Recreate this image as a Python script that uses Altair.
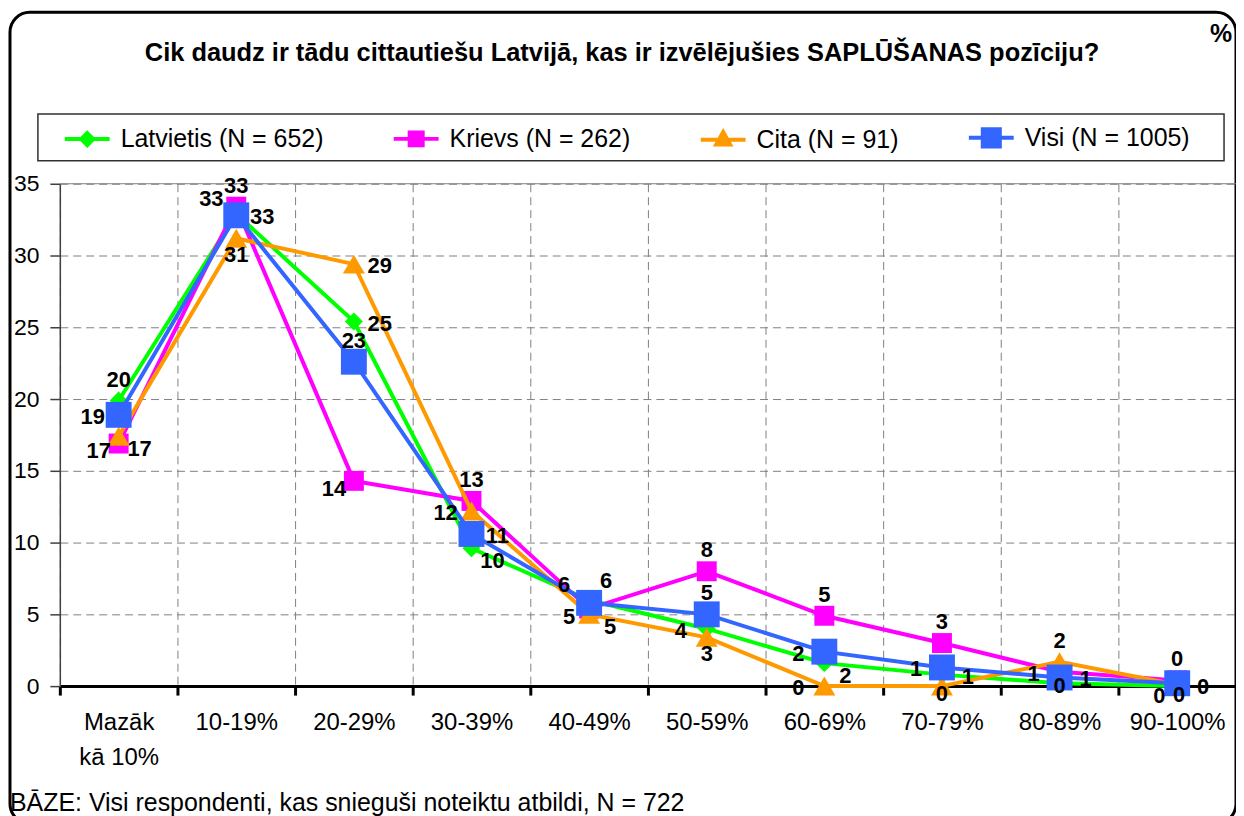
import altair as alt
import pandas as pd

# ---------------- data ----------------
categories = ["Mazāk kā 10%", "10-19%", "20-29%", "30-39%", "40-49%",
              "50-59%", "60-69%", "70-79%", "80-89%", "90-100%"]
series = ["Latvietis (N = 652)", "Krievs (N = 262)", "Cita (N = 91)", "Visi (N = 1005)"]
latvietis = [19.9, 32.9, 25.4, 9.6, 6.0, 4.0, 1.6, 0.8, 0.2, 0.0]
krievs = [16.9, 33.4, 14.3, 12.9, 5.4, 8.0, 4.9, 3.0, 1.0, 0.4]
cita = [17.4, 31.2, 29.4, 12.2, 5.0, 3.4, 0.0, 0.0, 1.7, 0.1]
visi = [18.9, 32.8, 22.6, 10.6, 5.8, 5.0, 2.4, 1.3, 0.6, 0.2]
y_ticks = [0, 5, 10, 15, 20, 25, 30, 35]

title_text = "Cik daudz ir tādu cittautiešu Latvijā, kas ir izvēlējušies SAPLŪŠANAS pozīciju?"
unit_text = "%"
footer_text = "BĀZE: Visi respondenti, kas snieguši noteiktu atbildi, N = 722"

# ---------------- styles ----------------
FONT = "Liberation Sans"
colors = ["#00FF00", "#FF00FF", "#FF9900", "#3366FF"]
shapes = ["diamond", "square", "triangle-up", "square"]
sizes = [324, 400, 484, 676]
# legend symbols: line segment plus marker (unit coordinates)
legend_paths = [
    "M-1,0L1,0M0,-0.27L0.27,0L0,0.27L-0.27,0Z",
    "M-1,0L1,0M-0.29,-0.29L0.29,-0.29L0.29,0.29L-0.29,0.29Z",
    "M-1,0L1,0M0,-0.34L0.31,0.22L-0.31,0.22Z",
    "M-1,0L1,0M-0.38,-0.38L0.38,-0.38L0.38,0.38L-0.38,0.38Z",
]
# data label placement (compass direction relative to marker)
label_pos = [
    ["N", "NW", "E", "SE", "NW", "W", "SE", "E", "C", "SSW"],
    ["SW", "N", "SW", "N", "SW", "N", "N", "N", "W", "N"],
    ["SE", "S", "E", "W", "SE", "S", "W", "S0", "N", "E"],
    ["W", "E", "N", "E", "NE", "N", "W", "W", "E", "S1"],
]
OFF = {"N": (0, -21), "S": (0, 17), "E": (26, 2), "W": (-26, 2),
       "NW": (-25, -15), "NE": (17, -22), "SE": (21, 13), "SW": (-20, 8),
       "SSW": (-18, 10), "S1": (2, 12), "S0": (0, 8), "C": (0, 3)}

values = [latvietis, krievs, cita, visi]
rows = []
for s, vals, poss in zip(series, values, label_pos):
    for c, v, p in zip(categories, vals, poss):
        rows.append({"series": s, "cat": c, "value": v, "pos": p})
df = pd.DataFrame(rows)

def js_list(items):
    return "[" + ",".join("'" + x + "'" for x in items) + "]"

idx = "indexof(" + js_list(series) + ", datum.value)"
shape_expr = js_list(legend_paths) + "[" + idx + "]"
color_expr = js_list(colors) + "[" + idx + "]"

legend = alt.Legend(
    orient="none", legendX=3, legendY=-71, direction="horizontal", title=None,
    symbolSize=2025, symbolStrokeWidth=4, labelFontSize=25, labelFont=FONT,
    labelColor="black", labelOffset=9, columnPadding=62, padding=0, labelLimit=400,
    symbolType=alt.ExprRef(shape_expr),
    symbolFillColor=alt.ExprRef(color_expr),
    symbolStrokeColor=alt.ExprRef(color_expr),
    symbolOpacity=1,
)
color_enc = alt.Color("series:N", scale=alt.Scale(domain=series, range=colors), legend=legend)

x_enc = alt.X(
    "cat:N", sort=categories,
    scale=alt.Scale(type="band", paddingInner=0, paddingOuter=0),
    axis=alt.Axis(title=None, tickBand="extent", grid=True, gridDash=[8, 5],
                  gridColor="#808080", gridWidth=1, domainColor="black", domainWidth=3,
                  tickColor="black", tickWidth=3, tickSize=9, labelAngle=0,
                  labelFontSize=24, labelFont=FONT, labelColor="black", labelPadding=16,
                  labelLineHeight=35, labelOverlap=False, labelFlush=False,
                  labelExpr="datum.label == 'Mazāk kā 10%' ? ['Mazāk', 'kā 10%'] : datum.label"),
)
y_enc = alt.Y(
    "value:Q", scale=alt.Scale(domain=[0, 35], nice=False),
    axis=alt.Axis(title=None, values=y_ticks, grid=True, gridDash=[8, 5],
                  gridColor="#808080", gridWidth=1, domainColor="#404040", domainWidth=1.5,
                  tickColor="#404040", tickWidth=1.5, tickSize=10, labelFontSize=23,
                  labelFont=FONT, labelColor="black", labelPadding=11),
)

base = alt.Chart(df)
one = alt.Data(values=[{}])

layers = []
# outer rounded frame
layers.append(alt.Chart(one).mark_rect(cornerRadius=20, fillOpacity=0, stroke="black",
                                       strokeWidth=3).encode(
    x=alt.value(-50), x2=alt.value(1180), y=alt.value(-172), y2=alt.value(642)))
# legend box
layers.append(alt.Chart(one).mark_rect(fillOpacity=0, stroke="#303030", strokeWidth=1.5).encode(
    x=alt.value(-22), x2=alt.value(1168), y=alt.value(-70), y2=alt.value(-23)))
# top border of plot area
layers.append(alt.Chart(one).mark_rule(color="#808080", strokeWidth=1).encode(y=alt.datum(35)))

for i, s in enumerate(series):
    sub = base.transform_filter(alt.datum.series == s)
    line = sub.mark_line(strokeWidth=4).encode(x=x_enc, y=y_enc, color=color_enc)
    pts = sub.mark_point(filled=True, shape=shapes[i], size=sizes[i], opacity=1).encode(
        x=x_enc, y=y_enc, color=color_enc)
    layers += [line, pts]

for p, (dx, dy) in OFF.items():
    layers.append(base.transform_filter(alt.datum.pos == p).mark_text(
        dx=dx, dy=dy, fontSize=22, fontWeight="bold", font=FONT, color="black",
        align="center", baseline="middle").encode(
        x=x_enc, y=y_enc, text=alt.Text("value:Q", format=".0f")))

# title, unit, footer
layers.append(alt.Chart(one).mark_text(text=title_text, fontSize=25.5, fontWeight="bold", font=FONT,
                                       color="black", align="center", baseline="middle").encode(
    x=alt.value(564), y=alt.value(-131)))
layers.append(alt.Chart(one).mark_text(text=unit_text, fontSize=25, fontWeight="bold", font=FONT,
                                       color="black", align="center", baseline="middle").encode(
    x=alt.value(1165), y=alt.value(-150)))
layers.append(alt.Chart(one).mark_text(text=footer_text, fontSize=25, font=FONT, color="black",
                                       align="left", baseline="alphabetic").encode(
    x=alt.value(-50), y=alt.value(629)))

chart = alt.layer(*layers).properties(
    width=1180, height=504,
    autosize=alt.AutoSizeParams(type="none"),
    padding={"left": 52, "top": 175, "right": 0, "bottom": 129},
).configure(font=FONT).configure_view(stroke="transparent")

chart.save("out.html", embed_options={"renderer": "svg", "actions": False})
